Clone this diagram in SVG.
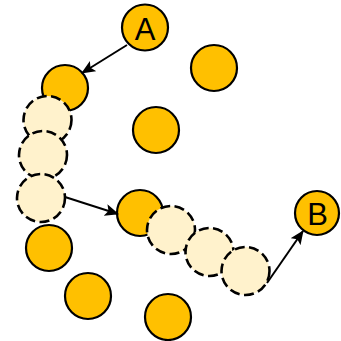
<svg xmlns="http://www.w3.org/2000/svg" width="341" height="341" viewBox="0 0 341 341">
<style>
.s{fill:#FFC000;stroke:#000;stroke-width:2.2}
.d{fill:#FFF2CC;stroke:#000;stroke-width:2.6;stroke-dasharray:10 4.5}
.t{font-family:"Liberation Sans",Arial,sans-serif;font-size:31px;fill:#000;text-anchor:middle}
.e{fill:none;stroke:#000;stroke-width:2}
</style>
<defs>
<marker id="ar" viewBox="0 0 14 12" refX="13" refY="6" markerWidth="14" markerHeight="12" markerUnits="userSpaceOnUse" orient="auto">
<path d="M0,0 L14,6 L0,12 L3,6 Z" fill="#000"/>
</marker>
</defs>
<g id="n1"><circle class="s" cx="65" cy="88" r="23"/></g>
<g id="n2"><circle class="s" cx="214" cy="68" r="23"/></g>
<g id="n3"><circle class="s" cx="156" cy="130" r="23"/></g>
<g id="n4"><circle class="s" cx="49" cy="248" r="23"/></g>
<g id="n5"><circle class="s" cx="88" cy="296" r="23"/></g>
<g id="n6"><circle class="s" cx="168" cy="317" r="23"/></g>
<g id="n7"><circle class="s" cx="140" cy="213" r="23"/></g>
<g id="d1"><circle class="d" cx="47.5" cy="120" r="24"/></g>
<g id="d2"><circle class="d" cx="43" cy="155" r="24"/></g>
<g id="d3"><circle class="d" cx="41" cy="198" r="24"/></g>
<g id="d4"><circle class="d" cx="171" cy="230" r="24"/></g>
<g id="d5"><circle class="d" cx="209.5" cy="252" r="24"/></g>
<g id="d6"><circle class="d" cx="245.5" cy="271" r="24"/></g>
<g id="A"><circle class="s" cx="145" cy="27.5" r="23"/><text class="t" x="145" y="39.5">A</text></g>
<g id="B"><circle class="s" cx="317" cy="213" r="22"/><text class="t" x="317.5" y="224.5">B</text></g>
<g id="connectors">
<line class="e" x1="127" y1="45" x2="82" y2="73" marker-end="url(#ar)"/>
<line class="e" x1="65" y1="197" x2="118" y2="214" marker-end="url(#ar)"/>
<line class="e" x1="267" y1="283" x2="303" y2="231" marker-end="url(#ar)"/>
</g>
</svg>
